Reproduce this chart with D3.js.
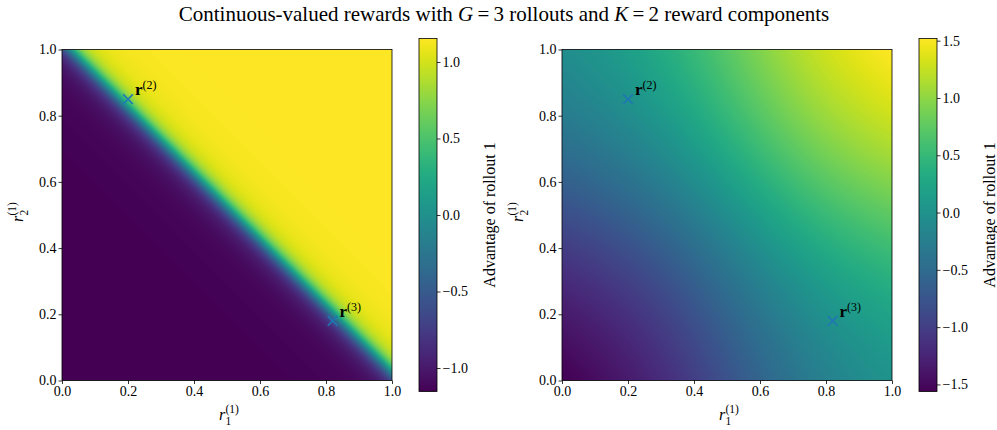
<!DOCTYPE html>
<html><head><meta charset="utf-8">
<script src="https://cdn.jsdelivr.net/npm/d3@7"></script>
<style>body{margin:0;background:#fff}svg{display:block}</style>
</head><body><svg id="c" width="997" height="430"></svg>
<script>
// ---- data ----
const rewardsRollout2 = [0.2, 0.85];
const rewardsRollout3 = [0.82, 0.18];
const pointLabels = ["(2)", "(3)"];
const axisTicks = [0, 0.2, 0.4, 0.6, 0.8, 1.0];
const cbarTicksLeft = [-1.0, -0.5, 0.0, 0.5, 1.0];
const cbarTicksRight = [-1.5, -1.0, -0.5, 0.0, 0.5, 1.0, 1.5];
const titleParts = ["Continuous-valued rewards with ", "G", "\u2009=\u20093 rollouts and ", "K", "\u2009=\u20092 reward components"];
const cbarLabel = "Advantage of rollout 1";

// advantage definitions
function zscore(v){const m=d3.mean(v);const s=d3.deviation(v);return (v[0]-m)/(s+1e-8);}
function advSummed(x,y){return zscore([x+y, rewardsRollout2[0]+rewardsRollout2[1], rewardsRollout3[0]+rewardsRollout3[1]]);}
function advPerComp(x,y){return zscore([x,rewardsRollout2[0],rewardsRollout3[0]])+zscore([y,rewardsRollout2[1],rewardsRollout3[1]]);}

const FONT = '"Liberation Serif", "Times New Roman", serif';
const svg = d3.select("#c").attr("font-family", FONT);
const fmt = d => d.toFixed(1).replace("-", "\u2212");
function txt(sel){ return sel.append("text").attr("font-family", FONT).attr("fill","#000"); }

// title
const t = txt(svg).attr("x", 504).attr("y", 20.5).attr("text-anchor","middle").attr("font-size",21);
titleParts.forEach((p,i)=>{t.append("tspan").text(p).attr("font-style", (i===1||i===3)?"italic":"normal");});

function panel(ox, fn, cbx, cbTicks){
  const x = d3.scaleLinear().domain([0,1]).range([ox, ox+330]);
  const y = d3.scaleLinear().domain([0,1]).range([380.5, 49.5]);
  const W = 330, H = 331;
  const N = 300;
  const vals = [];
  for(let j=0;j<N;j++){for(let i=0;i<N;i++){vals.push(fn(i/(N-1), j/(N-1)));}}
  const ext = d3.extent(vals);
  const color = d3.scaleSequential(d3.interpolateViridis).domain(ext);
  const cv = document.createElement("canvas"); cv.width=W; cv.height=H;
  const ctx = cv.getContext("2d"); const img = ctx.createImageData(W,H);
  for(let py=0;py<H;py++){for(let px=0;px<W;px++){
    const dx = x.invert(ox+px+0.5), dy = y.invert(49.5+py+0.5);
    const c = d3.rgb(color(fn(Math.min(1,Math.max(0,dx)), Math.min(1,Math.max(0,dy)))));
    const k=(py*W+px)*4; img.data[k]=c.r; img.data[k+1]=c.g; img.data[k+2]=c.b; img.data[k+3]=255;
  }}
  ctx.putImageData(img,0,0);
  svg.append("image").attr("x",ox).attr("y",49.5).attr("width",W).attr("height",H).attr("href",cv.toDataURL());
  svg.append("rect").attr("x",ox).attr("y",49.5).attr("width",W).attr("height",H).attr("fill","none").attr("stroke","#000").attr("stroke-width",0.8);

  const xa = svg.append("g").attr("transform","translate(0,380.5)").call(d3.axisBottom(x).tickValues(axisTicks).tickFormat(fmt).tickSize(3.5).tickPadding(2));
  const ya = svg.append("g").attr("transform",`translate(${ox},0)`).call(d3.axisLeft(y).tickValues(axisTicks).tickFormat(fmt).tickSize(3.5).tickPadding(2));
  [xa,ya].forEach(a=>{a.attr("font-family",FONT).attr("font-size",14);a.select(".domain").remove();a.selectAll("line").attr("stroke","#000").attr("stroke-width",0.8);a.selectAll("text").attr("font-family",FONT).attr("fill","#000");});

  const xl = svg.append("g").attr("transform",`translate(${ox+157},420)`);
  txt(xl).text("r").attr("font-style","italic").attr("font-size",16);
  txt(xl).attr("x",6.5).attr("y",-7).text("(1)").attr("font-size",11.5);
  txt(xl).attr("x",6.5).attr("y",5).text("1").attr("font-size",11.5);
  const yl = svg.append("g").attr("transform",`translate(${ox-39},${222}) rotate(-90)`);
  txt(yl).text("r").attr("font-style","italic").attr("font-size",16);
  txt(yl).attr("x",6.5).attr("y",-7).text("(1)").attr("font-size",11.5);
  txt(yl).attr("x",6.5).attr("y",5).text("2").attr("font-size",11.5);

  [rewardsRollout2, rewardsRollout3].forEach((r,i)=>{
    const cx = x(r[0]), cy = y(r[1]), s=4.8;
    svg.append("path").attr("d",`M${cx-s},${cy-s}L${cx+s},${cy+s}M${cx-s},${cy+s}L${cx+s},${cy-s}`).attr("stroke","#1f77b4").attr("stroke-width",1.6).attr("fill","none");
    txt(svg).attr("x",cx+7).attr("y",cy-4).text("r").attr("font-weight","bold").attr("font-size",17);
    txt(svg).attr("x",cx+14.5).attr("y",cy-10).text(pointLabels[i]).attr("font-size",12);
  });

  const cbTop=38.5, cbBot=391.5, cbW=18;
  const cy2 = d3.scaleLinear().domain(ext).range([cbBot, cbTop]);
  const gid = "g"+ox;
  const grad = svg.append("defs").append("linearGradient").attr("id",gid).attr("x1",0).attr("y1",1).attr("x2",0).attr("y2",0);
  d3.range(0,1.0001,0.02).forEach(f=>grad.append("stop").attr("offset",f).attr("stop-color",color(ext[0]+f*(ext[1]-ext[0]))));
  svg.append("rect").attr("x",cbx).attr("y",cbTop).attr("width",cbW).attr("height",cbBot-cbTop).attr("fill",`url(#${gid})`).attr("stroke","#000").attr("stroke-width",0.8);
  const ca = svg.append("g").attr("transform",`translate(${cbx+cbW},0)`).call(d3.axisRight(cy2).tickValues(cbTicks).tickFormat(fmt).tickSize(3.5).tickPadding(2));
  ca.attr("font-family",FONT).attr("font-size",14);
  ca.select(".domain").remove(); ca.selectAll("line").attr("stroke","#000").attr("stroke-width",0.8);
  ca.selectAll("text").attr("font-family",FONT).attr("fill","#000");
  txt(svg).attr("transform",`translate(${cbx+76},215) rotate(-90)`).attr("text-anchor","middle").text(cbarLabel).attr("font-size",16);
}

panel(62, advSummed, 419, cbarTicksLeft);
panel(562, advPerComp, 919, cbarTicksRight);
</script></body></html>
